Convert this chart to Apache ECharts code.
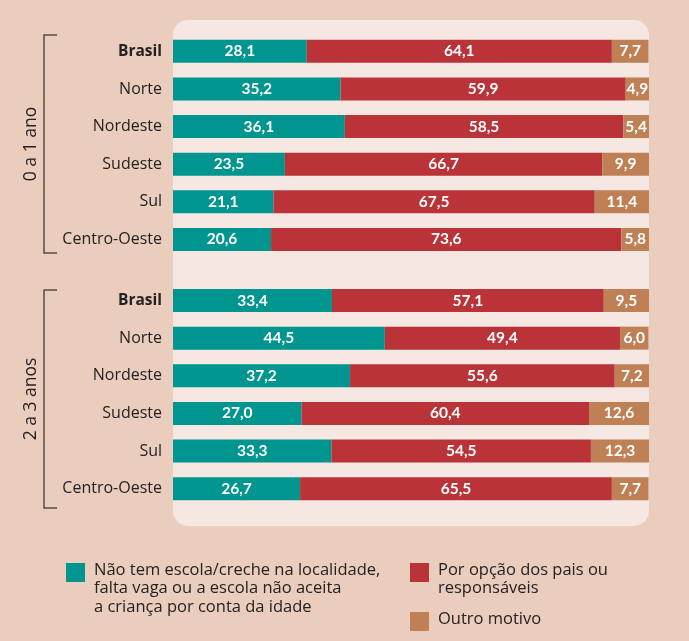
<!DOCTYPE html>
<html>
<head>
<meta charset="utf-8">
<script src="https://cdn.jsdelivr.net/npm/echarts@6/dist/echarts.min.js"></script>
<style>
html,body{margin:0;padding:0;background:#ebcdbe;}
#chart{width:689px;height:641px;}
</style>
</head>
<body>
<div id="chart"></div>
<script>
var regions = ['Brasil', 'Norte', 'Nordeste', 'Sudeste', 'Sul', 'Centro-Oeste'];
var groupNames = ['0 a 1 ano', '2 a 3 anos'];
var seriesNames = [
  'Não tem escola/creche na localidade,\nfalta vaga ou a escola não aceita\na criança por conta da idade',
  'Por opção dos pais ou\nresponsáveis',
  'Outro motivo'
];
var colors = ['#00968f', '#b93338', '#c08056'];

// 0 a 1 ano
var g1NaoTem = [28.1, 35.2, 36.1, 23.5, 21.1, 20.6];
var g1Opcao  = [64.1, 59.9, 58.5, 66.7, 67.5, 73.6];
var g1Outro  = [7.7, 4.9, 5.4, 9.9, 11.4, 5.8];
// 2 a 3 anos
var g2NaoTem = [33.4, 44.5, 37.2, 27.0, 33.3, 26.7];
var g2Opcao  = [57.1, 49.4, 55.6, 60.4, 54.5, 65.5];
var g2Outro  = [9.5, 6.0, 7.2, 12.6, 12.3, 7.7];

var groups = [[g1NaoTem, g1Opcao, g1Outro], [g2NaoTem, g2Opcao, g2Outro]];

var chart = echarts.init(document.getElementById('chart'));
var FONT = 'Open Sans';
var BFONT = 'Lato';

function fmt(v) { return v.toFixed(1).replace('.', ','); }

var grids = [
  {left: 173, right: 40, top: 32.5, height: 225.8},
  {left: 173, right: 40, top: 281.7, height: 225.8}
];

var xAxes = [], yAxes = [], series = [];
for (var g = 0; g < 2; g++) {
  xAxes.push({gridIndex: g, type: 'value', min: 0, max: 100, show: false});
  yAxes.push({
    gridIndex: g, type: 'category', data: regions, inverse: true,
    axisLine: {show: false}, axisTick: {show: false}, splitLine: {show: false},
    axisLabel: {
      margin: 11, fontFamily: FONT, fontSize: 16, color: '#222',
      formatter: function (v) { return v === 'Brasil' ? '{b|' + v + '}' : v; },
      rich: {b: {fontFamily: FONT, fontSize: 15.5, fontWeight: 'bold', color: '#222'}}
    }
  });
  for (var s = 0; s < 3; s++) {
    series.push({
      type: 'bar', name: seriesNames[s], stack: 'g' + g,
      xAxisIndex: g, yAxisIndex: g,
      data: groups[g][s], barWidth: 23,
      itemStyle: {color: colors[s]},
      label: {
        show: true, position: 'inside', color: '#fff',
        fontFamily: BFONT, fontWeight: 'bold', fontSize: 15.5,
        formatter: function (p) { return fmt(p.value); }
      }
    });
  }
}

var graphic = [
  {type: 'rect', z: -10, shape: {x: 173, y: 20, width: 476, height: 506, r: 15}, style: {fill: '#f5e7e2'}}
];
// brackets and group labels
var brackets = [[35, 253], [290, 508]];
for (var i = 0; i < 2; i++) {
  var y0 = brackets[i][0], y1 = brackets[i][1];
  graphic.push({
    type: 'polyline', shape: {points: [[57, y0], [44, y0], [44, y1], [57, y1]]},
    style: {stroke: '#5a4b46', lineWidth: 1.5, fill: null}
  });
  graphic.push({
    type: 'text', x: 31, y: (y0 + y1) / 2, rotation: Math.PI / 2,
    style: {text: groupNames[i], fontFamily: FONT, fontSize: 17.5, fill: '#222',
            textAlign: 'center', textVerticalAlign: 'middle'}
  });
}
// legend
var legendPos = [[66, 563], [410, 563], [410, 612]];
for (var k = 0; k < 3; k++) {
  graphic.push({type: 'rect', shape: {x: legendPos[k][0], y: legendPos[k][1], width: 19, height: 19},
                style: {fill: colors[k]}});
  graphic.push({
    type: 'text', x: legendPos[k][0] + 28, y: legendPos[k][1] - 2,
    style: {text: seriesNames[k], fontFamily: FONT, fontSize: 16.5, lineHeight: 18.5, fill: '#222',
            textAlign: 'left', textVerticalAlign: 'top'}
  });
}

chart.setOption({
  backgroundColor: '#ebcdbe',
  animation: false,
  grid: grids,
  xAxis: xAxes,
  yAxis: yAxes,
  series: series,
  graphic: graphic
});
</script>
</body>
</html>
